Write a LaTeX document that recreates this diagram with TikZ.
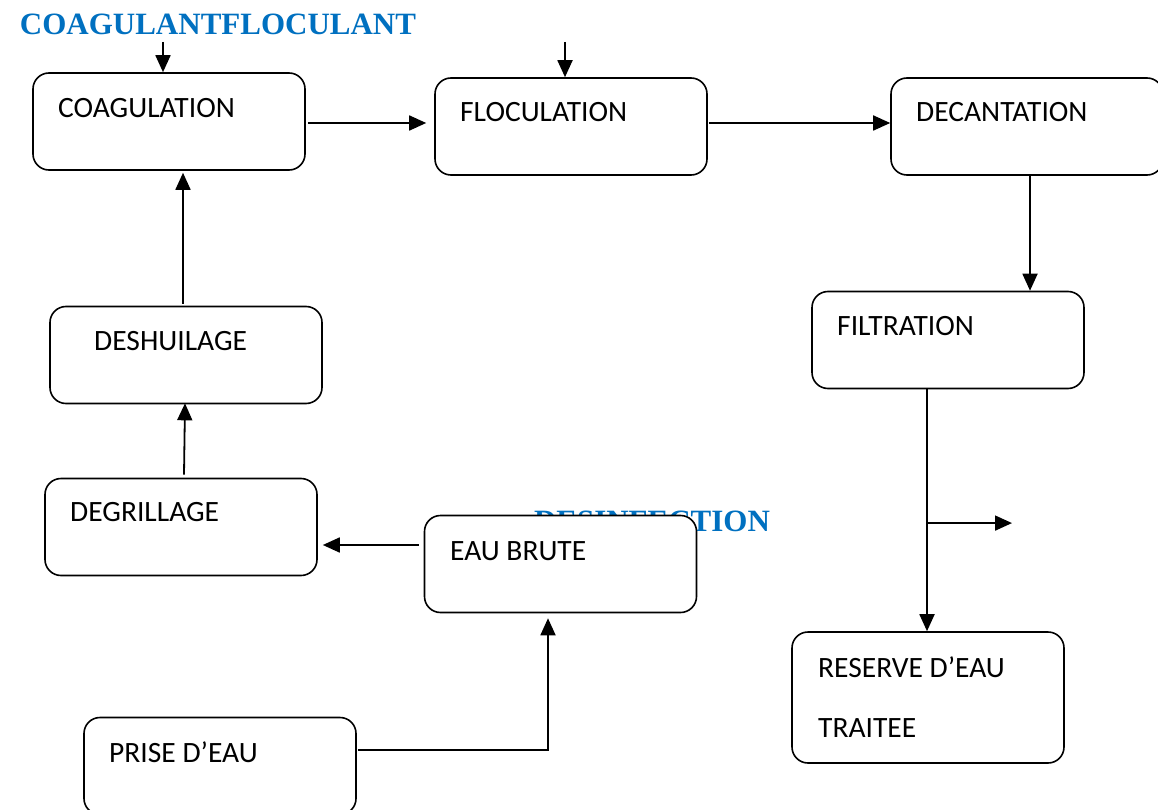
\documentclass[tikz,border=0pt]{standalone}
\usepackage{fontspec}
\setmainfont{Carlito}
\newfontfamily\reagentfont{Liberation Serif}
\usetikzlibrary{arrows.meta,calc}
\definecolor{reagentblue}{RGB}{0,112,192}

\tikzset{
  stage/.style={draw, line width=1.6pt, rounded corners=16pt, fill=white,
    minimum width=272pt, minimum height=97pt, inner sep=0pt},
  stagetext/.style={anchor=west, inner sep=0pt, font=\fontsize{29.5}{34}\selectfont},
  reagent/.style={inner sep=0pt, text=reagentblue,
    font=\reagentfont\bfseries\fontsize{31}{36}\selectfont},
  flow/.style={line width=1.8pt, -{Triangle[length=17pt,width=15pt]}}
}

\begin{document}
\begin{tikzpicture}[x=1pt, y=-1pt]
  \useasboundingbox (0,0) rectangle (1158,810);

  % reagents
  \node[reagent] (coagulant) at (218,24) {COAGULANTFLOCULANT};
  \node[reagent] (desinf) at (652,521) {DESINFECTION};

  % stages
  \node[stage] (coag) at (169,121.5) {};
  \node[stage] (floc) at (571,126.5) {};
  \node[stage] (decant) at (1027,126.5) {};
  \node[stage] (filt) at (948,340) {};
  \node[stage] (deshu) at (186,355) {};
  \node[stage] (degri) at (181,527) {};
  \node[stage] (eau) at (560.5,564) {};
  \node[stage] (prise) at (220,766) {};
  \node[stage, minimum height=131pt] (reserve) at (928,697.5) {};

  \node[stagetext] (coag-t) at (58,108) {COAGULATION};
  \node[stagetext] (floc-t) at (460,112) {FLOCULATION};
  \node[stagetext] (decant-t) at (916,112) {DECANTATION};
  \node[stagetext] (filt-t) at (837,326) {FILTRATION};
  \node[stagetext] (deshu-t) at (94,341) {DESHUILAGE};
  \node[stagetext] (degri-t) at (70,512) {DEGRILLAGE};
  \node[stagetext] (eau-t) at (450,551) {EAU BRUTE};
  \node[stagetext] (prise-t) at (109,752) {PRISE D’EAU};
  \node[stagetext] (reserve-t1) at (818,667) {RESERVE D’EAU};
  \node[stagetext] (reserve-t2) at (818,728) {TRAITEE};

  % reagent inputs
  \coordinate (coagin) at (163,42);
  \coordinate (flocin) at (565,42);
  \draw[flow] (coagin) -- (coagin |- coag.north);
  \draw[flow] (flocin) -- (flocin |- floc.north);

  % main line
  \draw[flow] ($(coag.east)+(2,1.5)$) -- ($(coag.east -| floc.west)+(-8,1.5)$);
  \draw[flow] ($(floc.east)+(1,-3.5)$) -- ($(floc.east -| decant.west)+(0,-3.5)$);
  \coordinate (d1) at ($(decant.south)+(3,0)$);
  \draw[flow] (d1) -- (d1 |- filt.north);
  \coordinate (f1) at ($(filt.south)+(-21,0)$);
  \draw[flow] (f1) -- (f1 |- reserve.north);
  \coordinate (branch) at ($(f1)!0.553!(f1 |- reserve.north)$);
  \draw[flow] (branch) -- ++(85,0);

  % intake side
  \draw[flow] ($(prise.east)+(1,-16)$) -| ($(eau.south)+(-12.5,5)$);
  \draw[flow] ($(eau.west)+(-5,-19)$) -- ($(degri.east)+(5,18)$);
  \draw[flow] ($(degri.north)+(3,-3)$) -- ($(deshu.south)+(-1,-1)$);
  \draw[flow] ($(deshu.north)+(-3,-2)$) -- ($(coag.south)+(14,2)$);
\end{tikzpicture}
\end{document}
